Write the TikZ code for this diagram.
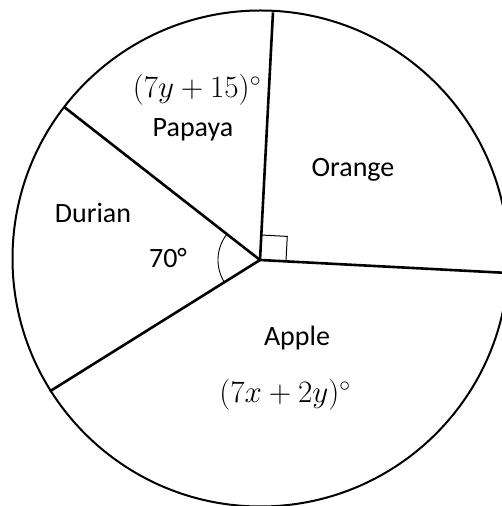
\documentclass[tikz,border=0pt]{standalone}
\usepackage{fontspec}
\setmainfont{Carlito}
\usetikzlibrary{calc}
\begin{document}
\begin{tikzpicture}[x=1pt,y=1pt,
  spoke/.style={line width=2.6pt},
  rim/.style={line width=2pt},
  lbl/.style={font=\fontsize{28}{32}\selectfont, inner sep=0pt},
  mlbl/.style={font=\fontsize{24}{28}\selectfont, inner sep=0pt}]
\useasboundingbox (0,0) rectangle (501,506);
\coordinate (O) at (260,246);
\draw[rim] (260.5,247.5) circle (248);
\coordinate (A) at ($(O)+(87:248)$);
\coordinate (B) at ($(O)+(-3:250)$);
\coordinate (C) at ($(O)+(142:248)$);
\coordinate (D) at ($(O)+(212:248)$);
\draw[spoke] (O) -- (A);
\draw[spoke] (O) -- (B);
\draw[spoke] (O) -- (C);
\draw[spoke] (O) -- (D);
\draw[line width=1pt] ($(O)+(-3:26)$) -- ++(87:25) -- ($(O)+(87:25)$);
\draw[line width=0.9pt] ($(O)+(142:42)$) arc[start angle=142, end angle=212, radius=42];
\node[mlbl] (py) at (197,416) {\scalebox{1.25}{$(7y+15)^\circ$}};
\node[lbl] (pa) at (193,376) {Papaya};
\node[lbl] (or) at (353,336) {Orange};
\node[lbl] (du) at (93,293) {Durian};
\node[lbl] (sv) at (168,248) {70\textdegree};
\node[lbl] (ap) at (297,168) {Apple};
\node[mlbl] (ax) at (285,111) {\scalebox{1.25}{$(7x+2y)^\circ$}};
\end{tikzpicture}
\end{document}
